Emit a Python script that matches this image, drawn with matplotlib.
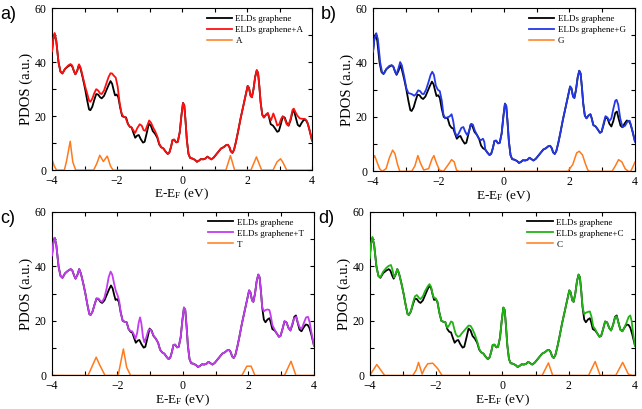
import matplotlib
matplotlib.use("Agg")
import matplotlib.pyplot as plt
from matplotlib.ticker import MultipleLocator

plt.rcParams['font.family'] = ['Liberation Serif', 'DejaVu Serif']
plt.rcParams['mathtext.default'] = 'regular'

# ---- pristine ELDs graphene (same curve in every panel) ----
e_pristine = [-4.00, -3.96, -3.92, -3.87, -3.80, -3.74, -3.68, -3.60, -3.50, -3.43, -3.38, -3.32,
              -3.28, -3.22, -3.17, -3.12, -3.05, -2.98, -2.92, -2.86, -2.82, -2.76, -2.70, -2.64,
              -2.58, -2.52, -2.47, -2.40, -2.33, -2.26, -2.20, -2.15, -2.10, -2.06, -2.01, -1.96,
              -1.90, -1.84, -1.78, -1.72, -1.66, -1.60, -1.55, -1.50, -1.44, -1.38, -1.33, -1.27,
              -1.20, -1.15, -1.08, -1.02, -0.96, -0.90, -0.83, -0.76, -0.70, -0.64, -0.57, -0.50,
              -0.44, -0.39, -0.34, -0.29, -0.24, -0.18, -0.13, -0.07, -0.02, 0.03, 0.07, 0.11,
              0.15, 0.20, 0.25, 0.32, 0.40, 0.46, 0.52, 0.58, 0.65, 0.72, 0.78, 0.84,
              0.90, 0.97, 1.05, 1.12, 1.20, 1.28, 1.35, 1.41, 1.46, 1.50, 1.55, 1.60,
              1.66, 1.72, 1.80, 1.88, 1.96, 2.02, 2.06, 2.11, 2.15, 2.20, 2.25, 2.30,
              2.34, 2.38, 2.42, 2.47, 2.52, 2.58, 2.64, 2.68, 2.73, 2.80, 2.86, 2.93,
              2.98, 3.04, 3.10, 3.16, 3.22, 3.28, 3.34, 3.40, 3.45, 3.50, 3.56, 3.62,
              3.68, 3.75, 3.81, 3.86, 3.92, 4.00]
dos_pristine = [44, 48.5, 50.5, 48, 40, 36.5, 35.8, 37.5, 38.5, 39, 38.5, 36.5,
                35.5, 37, 39, 37.5, 34, 30, 26, 22.5, 22.2, 23.5, 26, 28.2,
                28, 27, 26.6, 27.5, 29.5, 31.5, 33, 32, 29.5, 27.7, 28, 27,
                23, 20, 19.7, 19.5, 17, 16, 15.8, 14, 12, 12.8, 13, 11.5,
                10.2, 10.5, 14, 17.2, 16.5, 14.5, 13.5, 12, 9.5, 8.5, 8, 6.8,
                6, 6.5, 8.5, 11.2, 11.3, 10.3, 10.5, 14, 20, 24.9, 24, 18,
                11, 6, 4.5, 4.3, 3.8, 3.1, 3.5, 4.1, 4, 4.3, 5, 4.5,
                4, 4.6, 5.8, 6.8, 8, 8.5, 9.2, 9.4, 8.5, 7, 6.4, 7.5,
                10.5, 14, 19, 23.5, 28, 31.2, 30.5, 27.5, 27, 30, 34.5, 37,
                36, 31, 25, 20.5, 19.5, 20.5, 21, 19.5, 17, 16.5, 15.5, 14.2,
                14.5, 17, 19.8, 19.5, 17.5, 16.5, 18.5, 21.5, 22, 19.5, 16.8, 16.2,
                17.5, 18.7, 18.5, 17.5, 15, 11]

# shared middle section (-0.57 .. 2.42 eV), identical for all doped systems
e_mid = [-0.57, -0.50, -0.44, -0.39, -0.34, -0.29, -0.24, -0.18, -0.13, -0.07, -0.02, 0.03,
         0.07, 0.11, 0.15, 0.20, 0.25, 0.32, 0.40, 0.46, 0.52, 0.58, 0.65, 0.72,
         0.78, 0.84, 0.90, 0.97, 1.05, 1.12, 1.20, 1.28, 1.35, 1.41, 1.46, 1.50,
         1.55, 1.60, 1.66, 1.72, 1.80, 1.88, 1.96, 2.02, 2.06, 2.11, 2.15, 2.20,
         2.25, 2.30, 2.34, 2.38, 2.42]
dos_mid = [8, 6.8, 6, 6.5, 8.5, 11.2, 11.3, 10.3, 10.5, 14, 20, 24.9,
           24, 18, 11, 6, 4.5, 4.3, 3.8, 3.1, 3.5, 4.1, 4, 4.3,
           5, 4.5, 4, 4.6, 5.8, 6.8, 8, 8.5, 9.2, 9.4, 8.5, 7,
           6.4, 7.5, 10.5, 14, 19, 23.5, 28, 31.2, 30.5, 27.5, 27, 30,
           34.5, 37, 36, 31, 25]

# ---- ELDs graphene + A ----
e_A_left = [-4.00, -3.96, -3.92, -3.87, -3.80, -3.74, -3.68, -3.60, -3.50, -3.43, -3.38, -3.32,
            -3.28, -3.22, -3.17, -3.12, -3.05, -2.98, -2.92, -2.86, -2.82, -2.76, -2.70, -2.64,
            -2.58, -2.52, -2.47, -2.40, -2.33, -2.26, -2.20, -2.15, -2.10, -2.04, -1.98, -1.92,
            -1.86, -1.80, -1.74, -1.68, -1.60, -1.55, -1.50, -1.44, -1.38, -1.30, -1.24, -1.18,
            -1.13, -1.07, -1.01, -0.95, -0.89, -0.83, -0.76, -0.70, -0.64]
dos_A_left = [44, 48.5, 50.8, 48, 40, 36.5, 35.8, 37.5, 38.8, 39.3, 38.8, 36.5,
              35.5, 37, 39.2, 38, 34.5, 31, 28.5, 25.8, 25.3, 26.5, 28.5, 30,
              29.5, 28.4, 28.2, 29.5, 32, 34.5, 35.9, 35.8, 35, 34.3, 31, 25,
              21, 19.8, 19.6, 17.5, 16, 15.8, 14.8, 13.8, 15.5, 17, 16.5, 14.8,
              14.6, 16.5, 18.4, 17.5, 15.8, 14.5, 12.5, 9.8, 8.5]
e_A_right = [2.47, 2.52, 2.58, 2.64, 2.69, 2.74, 2.81, 2.87, 2.93, 2.99, 3.05, 3.10,
             3.16, 3.22, 3.27, 3.34, 3.40, 3.44, 3.49, 3.55, 3.62, 3.70, 3.78, 3.84,
             3.90, 4.00]
dos_A_right = [20.5, 19.5, 20.5, 21.2, 19.5, 18.5, 21, 19, 16.5, 17, 19, 20,
               19, 17, 16.5, 19, 22.3, 22.8, 21.5, 20.2, 19.2, 19, 19, 18.3,
               16, 11]

# ---- ELDs graphene + G ----
e_G_left = [-4.00, -3.96, -3.90, -3.85, -3.78, -3.72, -3.66, -3.58, -3.50, -3.43, -3.38, -3.32,
            -3.28, -3.22, -3.17, -3.12, -3.05, -2.98, -2.92, -2.86, -2.80, -2.74, -2.68, -2.62,
            -2.56, -2.50, -2.45, -2.38, -2.30, -2.24, -2.19, -2.14, -2.08, -2.02, -1.96, -1.90,
            -1.85, -1.80, -1.74, -1.66, -1.60, -1.55, -1.50, -1.44, -1.38, -1.30, -1.24, -1.18,
            -1.12, -1.06, -1.00, -0.95, -0.89, -0.83, -0.76, -0.70, -0.64, -0.60]
dos_G_left = [44, 48.5, 50.8, 48.5, 40, 36.3, 36, 37.8, 38.8, 39, 38.5, 36.5,
              35.8, 38, 40.2, 39, 35, 30.5, 28.8, 28.6, 28.3, 27.8, 28.5, 29.8,
              29.5, 28.5, 28.4, 30, 33, 35.5, 36.6, 35.5, 31.5, 30, 29.5, 26,
              21, 19.5, 19.8, 20.2, 21, 18.5, 14.5, 12.8, 14, 16, 16.3, 14.5,
              13.3, 15, 17.5, 17.2, 15, 13.5, 11.8, 11.5, 12, 10.8]
e_G_right = [2.47, 2.52, 2.58, 2.64, 2.68, 2.73, 2.80, 2.86, 2.93, 2.98, 3.04, 3.10,
             3.16, 3.22, 3.28, 3.34, 3.40, 3.44, 3.49, 3.55, 3.62, 3.70, 3.78, 3.84,
             3.90, 4.00]
dos_G_right = [20.5, 19.5, 20.5, 21, 19.5, 17, 16.5, 15.5, 14.2, 14.5, 17.5, 20.3,
               19.8, 18.5, 19.5, 23, 26, 26.3, 24.5, 19.5, 16.3, 16.8, 18.5, 18.6,
               16, 11]

# ---- ELDs graphene + T ----
e_T_left = [-4.00, -3.96, -3.92, -3.87, -3.80, -3.74, -3.68, -3.60, -3.50, -3.43, -3.38, -3.32,
            -3.28, -3.22, -3.17, -3.12, -3.05, -2.98, -2.92, -2.86, -2.82, -2.76, -2.70, -2.64,
            -2.58, -2.52, -2.47, -2.40, -2.33, -2.27, -2.21, -2.16, -2.10, -2.05, -2.00, -1.95,
            -1.90, -1.84, -1.78, -1.72, -1.66, -1.60, -1.55, -1.50, -1.45, -1.40, -1.35, -1.31,
            -1.27, -1.22, -1.18, -1.12, -1.06, -1.00, -0.95, -0.89, -0.83, -0.76, -0.70, -0.64]
dos_T_left = [44, 48.5, 50.5, 48, 40, 36.5, 35.8, 37.5, 38.5, 39, 38.5, 36.5,
              35.5, 37, 39, 37.5, 34, 30, 26, 22.5, 22.2, 23.5, 26, 28.3,
              28.2, 27.3, 27, 28.5, 32, 36, 38.1, 37, 33.5, 31, 29.5, 27.5,
              23, 20, 19.7, 19.5, 17, 16.3, 16.2, 15, 13.5, 15.5, 19.5, 21.3,
              19, 14, 12.2, 14, 16.5, 17, 16, 14.5, 13.5, 12, 9.5, 8.5]
e_T_right = [2.47, 2.52, 2.58, 2.64, 2.68, 2.73, 2.80, 2.86, 2.93, 2.98, 3.04, 3.10,
             3.16, 3.22, 3.28, 3.34, 3.40, 3.46, 3.52, 3.58, 3.64, 3.70, 3.76, 3.82,
             3.87, 3.92, 4.00]
dos_T_right = [23.5, 24, 24.2, 24, 22, 18.5, 16.8, 15.5, 14.2, 14.5, 17, 20,
               19.5, 17.5, 16.5, 19, 21, 21.5, 19, 17.3, 17.5, 19.5, 21.3, 21.5,
               19.5, 16, 11]

# ---- ELDs graphene + C ----
e_C_left = [-4.00, -3.96, -3.92, -3.87, -3.80, -3.74, -3.68, -3.60, -3.50, -3.43, -3.36, -3.31,
            -3.27, -3.22, -3.17, -3.12, -3.05, -2.98, -2.92, -2.86, -2.82, -2.76, -2.70, -2.64,
            -2.58, -2.52, -2.47, -2.40, -2.33, -2.26, -2.20, -2.15, -2.10, -2.06, -2.01, -1.96,
            -1.90, -1.84, -1.78, -1.72, -1.66, -1.60, -1.55, -1.50, -1.45, -1.40, -1.34, -1.28,
            -1.22, -1.15, -1.08, -1.02, -0.96, -0.90, -0.83, -0.76, -0.70, -0.64]
dos_C_left = [43, 48.5, 50.8, 48, 40, 36.5, 36, 38, 39.5, 40.2, 40.5, 38.5,
              36, 37.2, 39, 37.5, 34, 30, 26, 22.5, 22.2, 23.5, 26.5, 29,
              29.5, 28.5, 28, 29, 31, 32.5, 33.5, 32.5, 29.5, 28.5, 28.3, 27,
              23, 20, 19.7, 19.5, 17.5, 18.5, 19.8, 19.5, 17, 15, 14.2, 14.5,
              15.5, 16.5, 17.5, 18.3, 18.2, 17, 15, 12.5, 9.8, 8.5]
e_C_right = [2.47, 2.52, 2.58, 2.64, 2.69, 2.74, 2.80, 2.86, 2.93, 2.98, 3.04, 3.10,
             3.16, 3.22, 3.28, 3.34, 3.40, 3.45, 3.50, 3.56, 3.62, 3.68, 3.75, 3.81,
             3.86, 3.90, 3.95, 4.00]
dos_C_right = [22.5, 23, 23.3, 23.5, 21.5, 18, 17, 15.5, 14.2, 14.5, 17, 19.8,
               19.5, 17.5, 16.5, 18.5, 21.3, 21.7, 19.5, 16.8, 16.2, 17.5, 19.5, 21.5,
               22, 20, 15, 11]

# ---- projected DOS of the adsorbed nucleobases ----
e_A = [-4.00, -3.93, -3.86, -3.62, -3.55, -3.44, -3.36, -3.27, -2.72, -2.62, -2.53, -2.42,
       -2.30, -2.20, -2.12, 1.35, 1.49, 1.62, 2.12, 2.29, 2.45, 2.80, 2.92, 3.03,
       3.10, 3.22, 4.00]
pdos_A = [4, 1.5, 0, 0, 3.5, 10.7, 3, 0, 0, 2.5, 5.5, 3.2,
          5.2, 1.5, 0, 0, 5.4, 0, 0, 4.9, 0, 0, 3, 4.2,
          3, 0, 0]
e_G = [-4.00, -3.95, -3.88, -3.80, -3.72, -3.60, -3.50, -3.40, -3.33, -3.25, -3.18, -2.82,
       -2.72, -2.63, -2.55, -2.45, -2.30, -2.20, -2.14, -2.06, -1.97, -1.85, -1.70, -1.60,
       -1.52, -1.45, -1.38, 1.95, 2.10, 2.22, 2.30, 2.40, 2.48, 2.56, 2.62, 3.30,
       3.40, 3.50, 3.60, 3.70, 3.80, 3.87, 3.93, 4.00]
pdos_G = [4.5, 5.8, 3.5, 1, 0, 1, 5, 7.8, 6.5, 2.5, 0, 0,
          2, 5.8, 3, 0.5, 1, 4.5, 5.8, 3, 0.5, 0, 2.5, 4.3,
          3.5, 0.5, 0, 0, 2.5, 6.8, 7.4, 6, 3, 0.5, 0, 0,
          2, 4.3, 3.5, 1, 0, 0, 1.5, 3.4]
e_T = [-4.00, -2.90, -2.65, -2.55, -2.38, -1.98, -1.82, -1.72, -1.60, 1.80, 1.95, 2.08,
       2.20, 3.10, 3.30, 3.45, 4.00]
pdos_T = [0, 0, 6.7, 4, 0, 0, 9.7, 3, 0, 0, 3.4, 3.4,
          0, 0, 5.2, 0, 0]
e_C = [-4.00, -3.79, -3.55, -2.70, -2.60, -2.53, -2.42, -2.35, -2.25, -2.10, -1.95, -1.82,
       1.20, 1.39, 1.52, 2.60, 2.80, 2.95, 3.42, 3.63, 3.80, 3.92, 4.00]
pdos_C = [0, 4, 0, 0, 2, 4.8, 0.5, 2.5, 4.3, 4.5, 2.5, 0,
          0, 4.6, 0, 0, 5.1, 0, 0, 4.8, 0.5, 0, 0]

panel_tags = ["a)", "b)", "c)", "d)"]
bases = ["A", "G", "T", "C"]
doped_e = [e_A_left + e_mid + e_A_right, e_G_left + e_mid + e_G_right,
           e_T_left + e_mid + e_T_right, e_C_left + e_mid + e_C_right]
doped_dos = [dos_A_left + dos_mid + dos_A_right, dos_G_left + dos_mid + dos_G_right,
             dos_T_left + dos_mid + dos_T_right, dos_C_left + dos_mid + dos_C_right]
base_e = [e_A, e_G, e_T, e_C]
base_pdos = [pdos_A, pdos_G, pdos_T, pdos_C]
colors = ["#ff1010", "#2438e8", "#c43cf0", "#22b414"]
orange = "#ff7a1a"

# axes boxes [left, bottom, width, height] in figure fraction
boxes = [[0.081, 0.584, 0.405, 0.396],
         [0.581, 0.581, 0.408, 0.399],
         [0.081, 0.082, 0.408, 0.400],
         [0.576, 0.082, 0.413, 0.400]]

fig = plt.figure(figsize=(6.42, 4.09), dpi=100)

for i in range(4):
    ax = fig.add_axes(boxes[i])
    ax.plot(base_e[i], base_pdos[i], color=orange, lw=1.1, label=bases[i], zorder=2)
    ax.plot(e_pristine, dos_pristine, color="black", lw=1.3, label="ELDs graphene", zorder=3)
    ax.plot(doped_e[i], doped_dos[i], color=colors[i], lw=1.3,
            label="ELDs graphene+" + bases[i], zorder=4)

    ax.set_xlim(-4, 4)
    ax.set_ylim(0, 60)
    ax.xaxis.set_major_locator(MultipleLocator(2))
    ax.xaxis.set_minor_locator(MultipleLocator(1))
    ax.yaxis.set_major_locator(MultipleLocator(20))
    ax.yaxis.set_minor_locator(MultipleLocator(10))
    ax.tick_params(which="both", direction="in", top=True, right=True,
                   length=3, width=0.8, labelsize=8.5)
    ax.tick_params(axis="x", pad=3.5)
    ax.tick_params(axis="y", pad=4)
    for s in ax.spines.values():
        s.set_linewidth(0.8)

    ax.set_xlabel("E-E$_F$ (eV)", fontsize=9.5, labelpad=0)
    ax.set_ylabel("PDOS (a.u.)", fontsize=10.5, labelpad=1)

    h, l = ax.get_legend_handles_labels()
    ax.legend([h[1], h[2], h[0]], [l[1], l[2], l[0]], loc="upper left",
              bbox_to_anchor=(0.57, 1.0), frameon=False, fontsize=6.5,
              handlelength=2.8, handletextpad=0.4, labelspacing=0.3,
              borderaxespad=0.3)

    fig.text(boxes[i][0] - 0.081, boxes[i][1] + boxes[i][3] + 0.005, panel_tags[i],
             fontsize=13, family="Liberation Sans", va="top", ha="left")

fig.savefig("out.png", dpi=100)
